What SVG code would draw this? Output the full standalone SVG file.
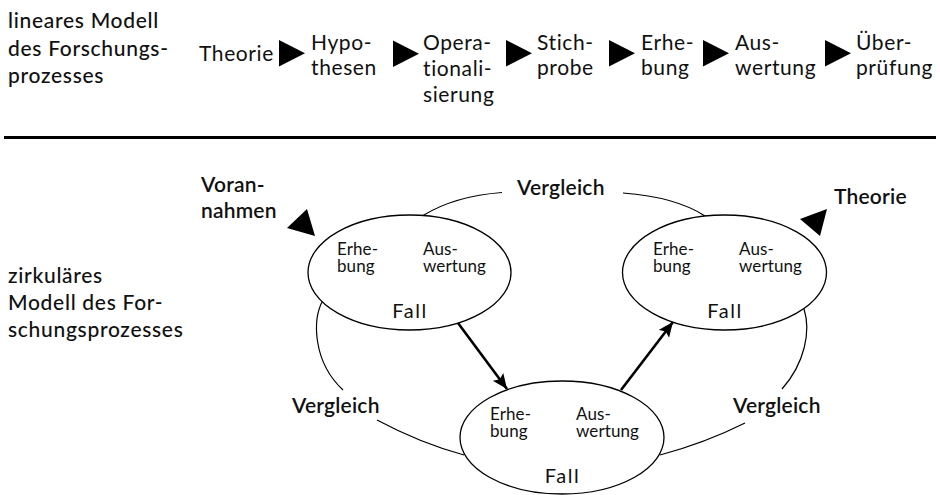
<svg xmlns="http://www.w3.org/2000/svg" width="940" height="495" viewBox="0 0 940 495">
  <style>
    text { font-family: Lato, "Open Sans", "Noto Sans", sans-serif; fill: #111; }
    .lbl { font-size: 21px; font-weight: 500; letter-spacing: 0.7px; }
    .step { font-size: 21px; letter-spacing: 0.6px; }
    .bold { font-size: 21px; font-weight: 600; letter-spacing: 0.2px; }
    .small { font-size: 17px; letter-spacing: 0.1px; }
    .fall { font-size: 20px; letter-spacing: 1.5px; }
    .case { fill: #fff; stroke: #000; stroke-width: 1.3; }
    .loop { fill: none; stroke: #000; stroke-width: 1.2; }
    .flow { fill: none; stroke: #000; stroke-width: 2.6; }
  </style>
  <defs>
    <polygon id="tri" points="0,0 0,26.5 26,13.25" fill="#000"/>
    <marker id="head" markerUnits="userSpaceOnUse" markerWidth="16" markerHeight="14" refX="15" refY="6.5" orient="auto">
      <path d="M0,0 L15,6.5 L0,13 L3,6.5 Z" fill="#000"/>
    </marker>
  </defs>

  <rect width="940" height="495" fill="#fff"/>

  <!-- linear model -->
  <g id="linear-title">
    <text class="lbl" x="8" y="28">lineares Modell</text>
    <text class="lbl" x="8" y="56">des Forschungs-</text>
    <text class="lbl" x="8" y="83">prozesses</text>
  </g>
  <g id="step-theorie"><text class="step" x="199" y="61">Theorie</text></g>
  <g id="step-hypothesen">
    <text class="step" x="311" y="50">Hypo-</text>
    <text class="step" x="311" y="75">thesen</text>
  </g>
  <g id="step-operationalisierung">
    <text class="step" x="423" y="50">Opera-</text>
    <text class="step" x="423" y="76">tionali-</text>
    <text class="step" x="423" y="102">sierung</text>
  </g>
  <g id="step-stichprobe">
    <text class="step" x="537" y="50">Stich-</text>
    <text class="step" x="537" y="75">probe</text>
  </g>
  <g id="step-erhebung">
    <text class="step" x="641" y="50">Erhe-</text>
    <text class="step" x="641" y="75">bung</text>
  </g>
  <g id="step-auswertung">
    <text class="step" x="735" y="50">Aus-</text>
    <text class="step" x="735" y="75">wertung</text>
  </g>
  <g id="step-ueberpruefung">
    <text class="step" x="856" y="50">Über-</text>
    <text class="step" x="856" y="75">prüfung</text>
  </g>
  <g id="linear-arrows">
    <use href="#tri" x="279" y="40"/>
    <use href="#tri" x="393" y="40.5"/>
    <use href="#tri" x="506" y="40"/>
    <use href="#tri" x="609" y="40"/>
    <use href="#tri" x="703" y="40"/>
    <use href="#tri" x="825" y="40"/>
  </g>

  <!-- separator -->
  <line x1="4" y1="137.5" x2="936" y2="137.5" stroke="#000" stroke-width="3"/>

  <!-- circular model -->
  <g id="circular-title">
    <text class="lbl" x="8" y="283">zirkuläres</text>
    <text class="lbl" x="8" y="310">Modell des For-</text>
    <text class="lbl" x="8" y="337">schungsprozesses</text>
  </g>

  <g id="connectors">
    <!-- comparison loop through the three cases -->
    <path class="loop" d="M423,215.5 Q455,196 502,192.5"/>
    <path class="loop" d="M623,193 Q676,197 705,216"/>
    <path class="loop" d="M323,300 C312,320 313,362 343,390"/>
    <path class="loop" d="M377,420 Q420,443 464,455"/>
    <path class="loop" d="M804,309 C811,331 805,363 782,389"/>
    <path class="loop" d="M745,423 Q705,443 660,455"/>
    <!-- case to case -->
    <path class="flow" d="M458,323 L507,389" marker-end="url(#head)"/>
    <path class="flow" d="M621,390 L673,322" marker-end="url(#head)"/>
    <!-- inputs and outputs -->
    <polygon points="287,228 307,209 315,236" fill="#000"/>
    <polygon points="800,219 827,209 820,236" fill="#000"/>
  </g>

  <g id="voranahmen">
    <text class="bold" x="201" y="192">Voran-</text>
    <text class="bold" x="201" y="218">nahmen</text>
  </g>
  <g id="vergleich-top"><text class="bold" x="517" y="195">Vergleich</text></g>
  <g id="vergleich-left"><text class="bold" x="292" y="413">Vergleich</text></g>
  <g id="vergleich-right"><text class="bold" x="733" y="413">Vergleich</text></g>
  <g id="theorie-out"><text class="bold" x="834" y="204">Theorie</text></g>

  <g id="case-1">
    <ellipse class="case" cx="409.5" cy="272.5" rx="101.5" ry="57.5"/>
    <text class="small" x="337" y="255">Erhe-</text>
    <text class="small" x="337" y="272">bung</text>
    <text class="small" x="423" y="255">Aus-</text>
    <text class="small" x="423" y="272">wertung</text>
    <text class="fall" x="410" y="318" text-anchor="middle">Fall</text>
  </g>
  <g id="case-2">
    <ellipse class="case" cx="562" cy="437.5" rx="102" ry="56.5"/>
    <text class="small" x="490" y="420">Erhe-</text>
    <text class="small" x="490" y="437">bung</text>
    <text class="small" x="576" y="420">Aus-</text>
    <text class="small" x="576" y="437">wertung</text>
    <text class="fall" x="562.5" y="483" text-anchor="middle">Fall</text>
  </g>
  <g id="case-3">
    <ellipse class="case" cx="724.5" cy="272.5" rx="102" ry="57.5"/>
    <text class="small" x="653" y="255">Erhe-</text>
    <text class="small" x="653" y="272">bung</text>
    <text class="small" x="739" y="255">Aus-</text>
    <text class="small" x="739" y="272">wertung</text>
    <text class="fall" x="725" y="318" text-anchor="middle">Fall</text>
  </g>
</svg>
